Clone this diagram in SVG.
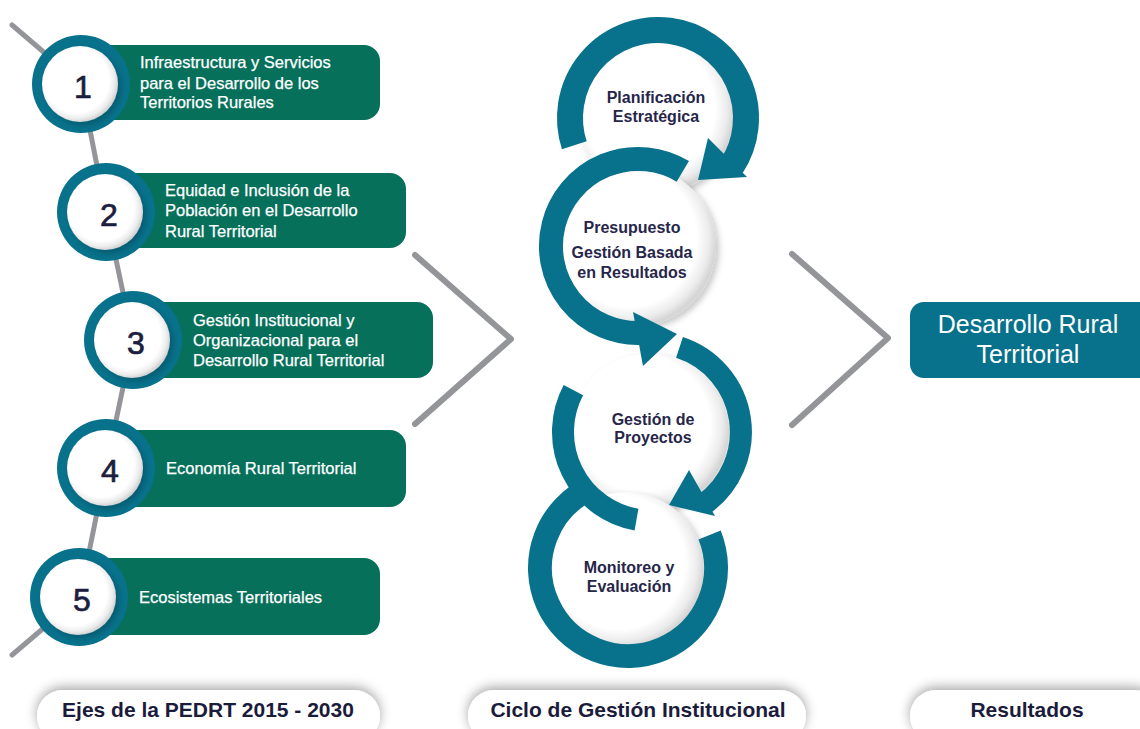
<svg xmlns="http://www.w3.org/2000/svg" width="1140" height="729" viewBox="0 0 1140 729">
<defs>
<radialGradient id="disk" cx="45%" cy="45%" r="55%">
<stop offset="0" stop-color="#ffffff"/>
<stop offset="0.78" stop-color="#ffffff"/>
<stop offset="0.92" stop-color="#ececec"/>
<stop offset="1" stop-color="#d6d6d6"/>
</radialGradient>
<filter id="dsh" x="-30%" y="-30%" width="160%" height="160%">
<feDropShadow dx="3" dy="3" stdDeviation="3" flood-color="#000" flood-opacity="0.22"/>
</filter>
<filter id="pillsh" x="-10%" y="-60%" width="120%" height="220%">
<feDropShadow dx="0" dy="-3" stdDeviation="6" flood-color="#000" flood-opacity="0.35"/>
</filter>
<style>
.box{fill:#07705b}
.ring{fill:#08728c}
.inner{fill:url(#disk);filter:url(#dsh)}
.btxt{font-family:"Liberation Sans",Arial,sans-serif;font-size:16.5px;fill:#ffffff;stroke:#ffffff;stroke-width:0.25px}
.num{font-family:"Liberation Sans",Arial,sans-serif;font-size:32px;fill:#1d1d3d;stroke:#1d1d3d;stroke-width:0.7px;text-anchor:middle}
.arc{fill:none;stroke:#08718b}
.head{fill:#08718b}
.ctxt{font-family:"Liberation Sans",Arial,sans-serif;font-size:16px;font-weight:bold;fill:#27264a;text-anchor:middle}
.pill{fill:#ffffff;filter:url(#pillsh)}
.ptxt{font-family:"Liberation Sans",Arial,sans-serif;font-size:21px;font-weight:bold;fill:#1b1b3b;text-anchor:middle}
.gline{fill:none;stroke:#939598;stroke-linecap:round;stroke-linejoin:round}
</style>
</defs>
<rect width="1140" height="729" fill="#ffffff"/>

<g id="connectors">
<path class="gline" stroke-width="5" d="M12,25 L81,84 L106,212 L133,340 L106,468 L80,597 L12,655"/>
<path class="gline" stroke-width="6" stroke-linejoin="miter" d="M415,255 L511,339 L415,424"/>
<path class="gline" stroke-width="6" stroke-linejoin="miter" d="M792,254 L888,338 L792,425"/>
</g>

<g id="axis1">
<rect class="box" x="81" y="45" width="299" height="75" rx="16"/>
<circle class="ring" cx="81" cy="84" r="49"/>
<circle class="inner" cx="80" cy="84" r="38"/>
<text class="num" x="83" y="98">1</text>
<text class="btxt" x="140" y="68">Infraestructura y Servicios</text>
<text class="btxt" x="140" y="89">para el Desarrollo de los</text>
<text class="btxt" x="140" y="108">Territorios Rurales</text>
</g>
<g id="axis2">
<rect class="box" x="106" y="173" width="300" height="75" rx="16"/>
<circle class="ring" cx="106" cy="212" r="49"/>
<circle class="inner" cx="105" cy="212" r="38"/>
<text class="num" x="109" y="226">2</text>
<text class="btxt" x="165" y="196">Equidad e Inclusión de la</text>
<text class="btxt" x="165" y="216">Población en el Desarrollo</text>
<text class="btxt" x="165" y="237">Rural Territorial</text>
</g>
<g id="axis3">
<rect class="box" x="133" y="302" width="300" height="76" rx="16"/>
<circle class="ring" cx="133" cy="340" r="49"/>
<circle class="inner" cx="132" cy="340" r="38"/>
<text class="num" x="136" y="354">3</text>
<text class="btxt" x="193" y="326">Gestión Institucional y</text>
<text class="btxt" x="193" y="346">Organizacional para el</text>
<text class="btxt" x="193" y="366">Desarrollo Rural Territorial</text>
</g>
<g id="axis4">
<rect class="box" x="106" y="430" width="300" height="77" rx="16"/>
<circle class="ring" cx="106" cy="468" r="49"/>
<circle class="inner" cx="105" cy="468" r="38"/>
<text class="num" x="110" y="482">4</text>
<text class="btxt" x="166" y="474">Economía Rural Territorial</text>
</g>
<g id="axis5">
<rect class="box" x="79" y="558" width="301" height="77" rx="16"/>
<circle class="ring" cx="79" cy="597" r="49"/>
<circle class="inner" cx="78" cy="597" r="38"/>
<text class="num" x="82" y="611">5</text>
<text class="btxt" x="139" y="603">Ecosistemas Territoriales</text>
</g>

<g id="cycle-disks">
<circle class="inner" cx="656" cy="116" r="78"/>
<circle class="inner" cx="636" cy="246" r="80"/>
<circle class="inner" cx="650" cy="432" r="79"/>
<circle class="inner" cx="626" cy="570" r="78"/>
</g>

<g id="planificacion">
<path class="arc" stroke-width="26" d="M574.3,145.2 A88,88 0 1 1 731.8,165.9"/>
<polygon class="head" points="708,138 747,177 698,180"/>
<text class="ctxt" x="656" y="103">Planificación</text>
<text class="ctxt" x="656" y="122">Estratégica</text>
</g>
<g id="presupuesto">
<path class="arc" stroke-width="24" d="M682.8,171.4 A87,87 0 1 0 641.0,332.9"/>
<polygon class="head" points="633,312 643,366 677,334"/>
<text class="ctxt" x="632" y="233">Presupuesto</text>
<text class="ctxt" x="632" y="258">Gestión Basada</text>
<text class="ctxt" x="632" y="278">en Resultados</text>
</g>
<g id="proyectos">
<path class="arc" stroke-width="22" d="M679.5,347.4 A89,89 0 0 1 703.0,504.9"/>
<polygon class="head" points="689,470 715,516 669,505"/>
<path class="arc" stroke-width="22" d="M573.4,390.2 A89,89 0 0 0 636.5,519.6"/>
<text class="ctxt" x="653" y="425">Gestión de</text>
<text class="ctxt" x="653" y="443">Proyectos</text>
</g>
<g id="monitoreo">
<path class="arc" stroke-width="24" d="M590.8,488.2 A88,88 0 1 0 709.6,535.0"/>
<text class="ctxt" x="629" y="573">Monitoreo y</text>
<text class="ctxt" x="629" y="592">Evaluación</text>
</g>

<g id="resultado">
<rect x="910" y="302" width="245" height="76" rx="14" fill="#08718b"/>
<text x="1028" y="333" font-family="Liberation Sans, Arial, sans-serif" font-size="25" fill="#ffffff" text-anchor="middle">Desarrollo Rural</text>
<text x="1028" y="363" font-family="Liberation Sans, Arial, sans-serif" font-size="25" fill="#ffffff" text-anchor="middle">Territorial</text>
</g>

<g id="label-ejes">
<rect class="pill" x="37" y="690" width="343" height="52" rx="26"/>
<text class="ptxt" x="208" y="717">Ejes de la PEDRT 2015 - 2030</text>
</g>
<g id="label-ciclo">
<rect class="pill" x="468" y="690" width="338" height="52" rx="26"/>
<text class="ptxt" x="638" y="717">Ciclo de Gestión Institucional</text>
</g>
<g id="label-resultados">
<rect class="pill" x="910" y="690" width="250" height="52" rx="26"/>
<text class="ptxt" x="1027" y="717">Resultados</text>
</g>
</svg>
